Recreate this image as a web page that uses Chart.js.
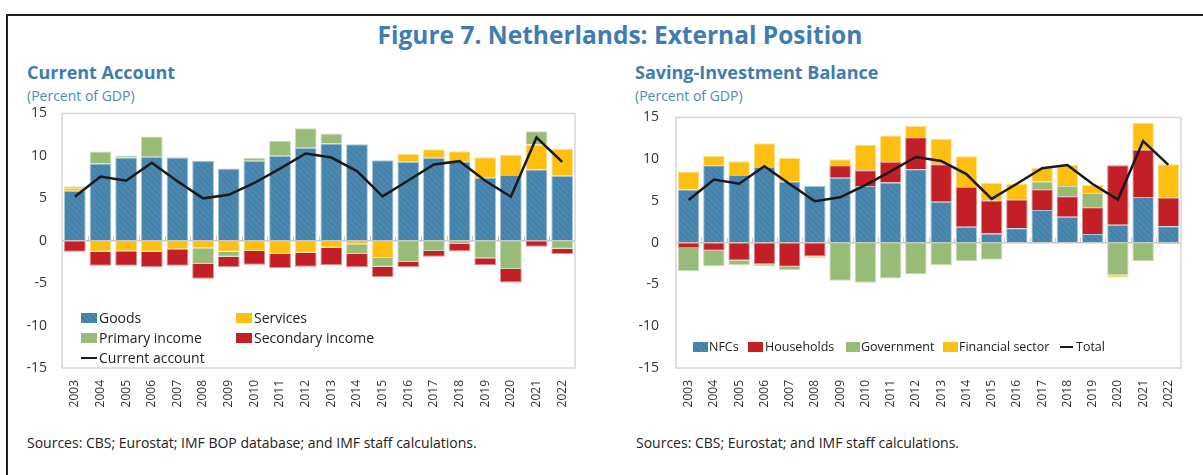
<!DOCTYPE html>
<html>
<head>
<meta charset="utf-8">
<script src="https://cdn.jsdelivr.net/npm/chart.js@4.4.0/dist/chart.umd.min.js"></script>
<style>
  html, body { margin:0; padding:0; background:#fff; }
  body { width:1203px; height:475px; position:relative; overflow:hidden; font-family:"Open Sans", "Noto Sans", sans-serif; }
  .frame { position:absolute; left:6px; top:14px; width:1200px; height:470px; border-top:2px solid #231f20; border-left:2px solid #231f20; }
  .title { position:absolute; left:0; width:1240px; top:18px; text-align:center; font-weight:700; font-size:24.5px; color:#3f7cb1; }
  .sub { position:absolute; font-weight:700; font-size:18px; color:#3f7cb1; }
  .unit { position:absolute; font-size:14px; color:#4a88c7; }
  .src { position:absolute; font-size:14px; color:#222; top:433px; }
  canvas { position:absolute; }
  .lg { position:absolute; color:#222; line-height:20px; white-space:nowrap; }
  .sw { position:absolute; height:10px; }
  .ln { position:absolute; height:2px; background:#1a1a1a; }
</style>
</head>
<body>
<div class="frame"></div>
<div class="title">Figure 7. Netherlands: External Position</div>
<div class="sub" style="left:27px;top:60px;">Current Account</div>
<div class="unit" style="left:27px;top:86px;">(Percent of GDP)</div>
<div class="sub" style="left:635px;top:60px;">Saving-Investment Balance</div>
<div class="unit" style="left:635px;top:86px;">(Percent of GDP)</div>

<canvas id="c1" width="600" height="330" style="left:0;top:90px;"></canvas>
<canvas id="c2" width="603" height="330" style="left:600px;top:92px;"></canvas>

<div id="leg1"></div>
<div id="leg2"></div>

<div class="src" style="left:27px;">Sources: CBS; Eurostat; IMF BOP database; and IMF staff calculations.</div>
<div class="src" style="left:636px;">Sources: CBS; Eurostat; and IMF staff calculations.</div>

<script>
// ---------- DATA ----------
const years = ['2003','2004','2005','2006','2007','2008','2009','2010','2011','2012','2013','2014','2015','2016','2017','2018','2019','2020','2021','2022'];
const yTicks = [-15, -10, -5, 0, 5, 10, 15];

// Current Account
const goods     = [5.88, 9.10, 9.80, 9.88, 9.80, 9.41, 8.52, 9.41, 10.00, 10.94, 11.46, 11.37, 9.49, 9.29, 9.76, 9.29, 7.41, 7.73, 8.40, 7.65];
const services  = [0.35, -1.30, -1.25, -1.30, -1.02, -0.90, -1.29, -1.22, -1.57, -1.41, -0.82, -0.43, -2.04, 0.94, 1.02, 1.26, 2.43, 2.39, 2.94, 3.18];
const primaryIncome   = [0.20, 1.40, 0.25, 2.40, 0.05, -1.84, -0.59, 0.35, 1.76, 2.32, 1.17, -1.14, -1.02, -2.50, -1.22, -0.39, -2.08, -3.33, 1.57, -0.94];
const secondaryIncome = [-1.29, -1.64, -1.69, -1.83, -1.92, -1.73, -1.26, -1.60, -1.64, -1.65, -2.08, -1.57, -1.21, -0.60, -0.66, -0.86, -0.82, -1.61, -0.72, -0.63];
const currentAccount  = [5.18, 7.57, 7.06, 9.18, 7.00, 4.99, 5.41, 6.80, 8.50, 10.28, 9.80, 8.20, 5.22, 7.10, 8.98, 9.37, 7.06, 5.18, 12.16, 9.29];

// Saving-Investment Balance
const nfcs       = [6.38, 9.27, 8.09, 9.07, 7.33, 6.78, 7.77, 6.78, 7.21, 8.80, 4.89, 1.92, 1.09, 1.72, 3.90, 3.10, 1.05, 2.16, 5.48, 1.96];
const households = [-0.62, -0.97, -2.12, -2.59, -2.87, -1.66, 1.50, 1.90, 2.46, 3.83, 4.50, 4.75, 3.95, 3.44, 2.49, 2.45, 3.20, 7.11, 5.65, 3.44];
const government = [-2.76, -1.86, -0.59, -0.24, -0.43, 0.00, -4.57, -4.80, -4.29, -3.78, -2.71, -2.23, -2.04, 0.00, 0.94, 1.23, 1.70, -3.90, -2.23, -0.18];
const financial  = [2.14, 1.15, 1.66, 2.85, 2.81, -0.18, 0.71, 3.04, 3.16, 1.34, 3.04, 3.67, 2.14, 1.94, 1.63, 2.52, 0.95, -0.27, 3.24, 3.99];
const total      = [5.12, 7.57, 7.06, 9.15, 7.02, 4.96, 5.44, 6.90, 8.55, 10.26, 9.79, 8.21, 5.24, 7.06, 8.92, 9.31, 7.02, 5.16, 12.16, 9.31];

// ---------- STYLE ----------
const BLUE = '#4b88b0', YELLOW = '#fcbf12', GREEN = '#98bb77', RED = '#c22026', LINE = '#1a1a1a';

function hatch() {
  const c = document.createElement('canvas'); c.width = 6; c.height = 6;
  const x = c.getContext('2d');
  x.fillStyle = BLUE; x.fillRect(0, 0, 6, 6);
  x.strokeStyle = 'rgba(40,90,130,0.3)'; x.lineWidth = 1;
  x.beginPath();
  x.moveTo(0, 0); x.lineTo(6, 6);
  x.moveTo(-3, 3); x.lineTo(3, 9);
  x.moveTo(3, -3); x.lineTo(9, 3);
  x.stroke();
  return x.createPattern(c, 'repeat');
}
const BLUE_PAT = hatch();

const axisPlugin = {
  id: 'axisDeco',
  beforeDatasetsDraw(chart) {
    const { ctx, chartArea: a } = chart;
    ctx.save();
    ctx.strokeStyle = '#d6d6d6'; ctx.lineWidth = 1.5;
    ctx.strokeRect(a.left, a.top, a.right - a.left, a.bottom - a.top);
    ctx.restore();
  },
  afterDatasetsDraw(chart) {
    const { ctx, chartArea: a, scales } = chart;
    const y0 = scales.y.getPixelForValue(0);
    ctx.save();
    ctx.strokeStyle = '#c8c8c8'; ctx.lineWidth = 1.5;
    ctx.beginPath(); ctx.moveTo(a.left, y0); ctx.lineTo(a.right, y0); ctx.stroke();
    const n = years.length, w = (a.right - a.left) / n;
    ctx.lineWidth = 1;
    ctx.beginPath();
    for (let i = 1; i < n; i++) {
      const x = Math.round(a.left + i * w) + 0.5;
      ctx.moveTo(x, y0 - 5); ctx.lineTo(x, y0);
    }
    ctx.stroke();
    ctx.restore();
  }
};

function barDs(label, data, color, border) {
  return { type: 'bar', label, data, backgroundColor: color, borderColor: border, borderWidth: 1,
           barPercentage: 0.85, categoryPercentage: 1.0, stack: 's', order: 1 };
}
function lineDs(label, data) {
  return { type: 'line', label, data, borderColor: LINE, backgroundColor: LINE, borderWidth: 2.5,
           pointRadius: 0, tension: 0, stack: 'line', order: 0, fill: false };
}

function makeChart(id, datasets, yWidth, yPad, padRight, xHeight) {
  return new Chart(document.getElementById(id), {
    data: { labels: years, datasets },
    plugins: [axisPlugin],
    options: {
      responsive: false, animation: false, devicePixelRatio: 1,
      layout: { padding: { top: 3, right: padRight, left: 0, bottom: 0 } },
      plugins: { legend: { display: false }, tooltip: { enabled: false } },
      scales: {
        x: {
          stacked: true, offset: true,
          grid: { display: false, drawTicks: false }, border: { display: false },
          ticks: { minRotation: 90, maxRotation: 90, padding: 12, color: '#333',
                   font: { family: '"Open Sans", sans-serif', size: 12 } },
          afterFit(s) { s.height = xHeight; }
        },
        y: {
          stacked: true, min: -15, max: 15,
          grid: { display: false, drawTicks: false }, border: { display: false },
          afterBuildTicks(s) { s.ticks = yTicks.map(v => ({ value: v })); },
          ticks: { padding: yPad, color: '#333', font: { family: '"Open Sans", sans-serif', size: 14 } },
          afterFit(s) { s.width = yWidth; }
        }
      }
    }
  });
}

makeChart('c1', [
  barDs('Goods', goods, BLUE_PAT, '#a9c6da'),
  barDs('Services', services, YELLOW, '#fde08a'),
  barDs('Primary income', primaryIncome, GREEN, '#cadcb9'),
  barDs('Secondary income', secondaryIncome, RED, '#e08d90'),
  lineDs('Current account', currentAccount)
], 62, 15, 25, 52);

makeChart('c2', [
  barDs('NFCs', nfcs, BLUE_PAT, '#a9c6da'),
  barDs('Households', households, RED, '#e08d90'),
  barDs('Government', government, GREEN, '#cadcb9'),
  barDs('Financial sector', financial, YELLOW, '#fde08a'),
  lineDs('Total', total)
], 76, 17, 22, 54);

// ---------- LEGENDS (HTML text) ----------
const blueCss = 'background:' + BLUE + ' repeating-linear-gradient(45deg, rgba(40,90,130,0.3) 0 1px, transparent 1px 4px);';
function item(parent, x, y, kind, color, text, size, swW, gap) {
  const d = document.createElement('div');
  d.className = 'lg'; d.style.left = x + 'px'; d.style.top = (y - 10) + 'px';
  d.style.paddingLeft = (swW + gap) + 'px';
  d.style.fontSize = size + 'px';
  const s = document.createElement('div');
  if (kind === 'line') { s.className = 'ln'; s.style.cssText = 'left:0;top:9px;width:' + swW + 'px;'; }
  else { s.className = 'sw'; s.style.cssText = 'left:0;top:5px;width:' + swW + 'px;' + color; }
  d.appendChild(s);
  d.appendChild(document.createTextNode(text));
  parent.appendChild(d);
}
const L1 = document.getElementById('leg1');
item(L1, 81, 318, 'box', blueCss, 'Goods', 14, 16, 2);
item(L1, 236, 318, 'box', 'background:' + YELLOW, 'Services', 14, 16, 2);
item(L1, 81, 338, 'box', 'background:' + GREEN, 'Primary income', 14, 16, 2);
item(L1, 236, 338, 'box', 'background:' + RED, 'Secondary income', 14, 16, 2);
item(L1, 81, 358, 'line', '', 'Current account', 14, 16, 2);

const L2 = document.getElementById('leg2');
item(L2, 693, 347, 'box', blueCss, 'NFCs', 12.5, 15, 1);
item(L2, 748, 347, 'box', 'background:' + RED, 'Households', 12.5, 15, 2);
item(L2, 846, 347, 'box', 'background:' + GREEN, 'Government', 12.5, 14, 1);
item(L2, 943, 347, 'box', 'background:' + YELLOW, 'Financial sector', 12.5, 15, 1);
item(L2, 1060, 347, 'line', '', 'Total', 12.5, 13, 3);
</script>
</body>
</html>
